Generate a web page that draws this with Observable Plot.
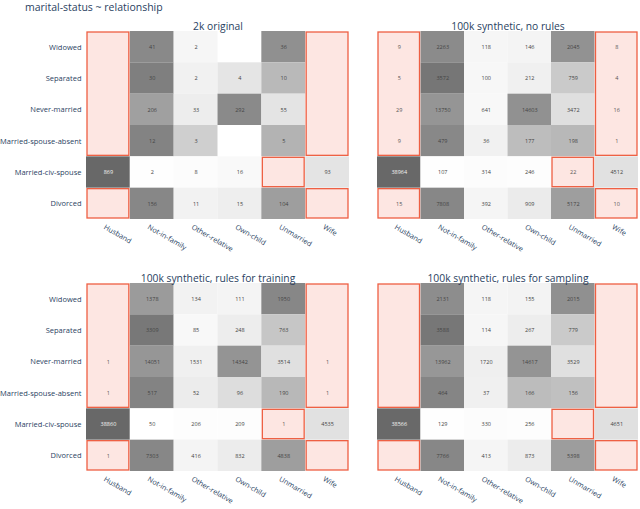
<!DOCTYPE html>
<html>
<head>
<meta charset="utf-8">
<script src="https://cdn.jsdelivr.net/npm/d3@7"></script>
<script src="https://cdn.jsdelivr.net/npm/@observablehq/plot@0.6"></script>
<style>
  body { margin: 0; background: #fff; }
  #wrap { position: relative; width: 640px; height: 509px; overflow: hidden; font-family: "Open Sans", sans-serif; }
  #title { position: absolute; left: 25px; top: 0px; font-size: 10.5px; color: #2a3f5f; white-space: nowrap; }
  .panel { position: absolute; }
</style>
</head>
<body>
<div id="wrap">
  <div id="title">marital-status ~ relationship</div>
</div>
<script>
const rows = ["Widowed", "Separated", "Never-married", "Married-spouse-absent", "Married-civ-spouse", "Divorced"];
const cols = ["Husband", "Not-in-family", "Other-relative", "Own-child", "Unmarried", "Wife"];
const panelTitles = ["2k original", "100k synthetic, no rules", "100k synthetic, rules for training", "100k synthetic, rules for sampling"];

// counts: rows x cols (0 = empty)
const original2k = [
  [0, 41, 2, 0, 36, 0],
  [0, 30, 2, 4, 10, 0],
  [0, 206, 33, 292, 55, 0],
  [0, 12, 3, 0, 5, 0],
  [869, 2, 8, 16, 0, 93],
  [0, 156, 11, 15, 104, 0]
];
const noRules = [
  [9, 2263, 118, 146, 2045, 8],
  [5, 3572, 100, 212, 759, 4],
  [29, 13750, 641, 14603, 3472, 16],
  [9, 479, 36, 177, 198, 1],
  [38964, 107, 314, 246, 22, 4512],
  [15, 7808, 392, 909, 5172, 10]
];
const rulesTraining = [
  [0, 1378, 134, 111, 1950, 0],
  [0, 3309, 85, 248, 763, 0],
  [1, 14051, 1531, 14342, 3514, 1],
  [1, 517, 52, 96, 190, 1],
  [38860, 50, 206, 209, 1, 4535],
  [1, 7303, 416, 832, 4838, 0]
];
const rulesSampling = [
  [0, 2131, 118, 155, 2015, 0],
  [0, 3588, 114, 267, 779, 0],
  [0, 13962, 1720, 14617, 3529, 0],
  [0, 464, 37, 166, 156, 0],
  [38566, 129, 330, 256, 0, 4651],
  [0, 7766, 413, 873, 5398, 0]
];

// forbidden combinations (rules), grouped as drawn
const forbidden = [
  {col: "Husband", rows: ["Widowed", "Separated", "Never-married", "Married-spouse-absent"]},
  {col: "Husband", rows: ["Divorced"]},
  {col: "Wife", rows: ["Widowed", "Separated", "Never-married", "Married-spouse-absent"]},
  {col: "Wife", rows: ["Divorced"]},
  {col: "Unmarried", rows: ["Married-civ-spouse"]}
];

const grayDomain = [0, 0.03, 0.1, 0.2, 0.35, 0.5, 0.75, 1];
const grayRange = ["#ffffff", "#f4f4f4", "#e2e2e2", "#bcbcbc", "#a0a0a0", "#8a8a8a", "#787878", "#5a5a5a"];

const isForbidden = (r, c) => forbidden.some(f => f.col === cols[c] && f.rows.includes(rows[r]));

function makeCells(values) {
  const out = [];
  values.forEach((row, r) => {
    const sum = d3.sum(row);
    row.forEach((v, c) => out.push({r, c, v, p: sum ? v / sum : 0, forb: isForbidden(r, c)}));
  });
  return out;
}

const ruleRects = forbidden.map(f => {
  const idx = f.rows.map(r => rows.indexOf(r));
  return {c: cols.indexOf(f.col), r1: d3.min(idx), r2: d3.max(idx) + 1};
});

function panel(values, title, opts) {
  const cells = makeCells(values);
  const marks = [
    Plot.rect(cells.filter(d => !d.forb && d.v > 0), {
      x1: d => d.c, x2: d => d.c + 1, y1: d => d.r, y2: d => d.r + 1, fill: d => d.p
    }),
    Plot.rect(ruleRects, {
      x1: d => d.c, x2: d => d.c + 1, y1: d => d.r1, y2: d => d.r2,
      fill: "#fde6e2", stroke: "#ee5f42", strokeWidth: 1.3, inset: 1
    }),
    Plot.text(cells.filter(d => d.v > 0 && d.forb), {
      x: d => d.c + 0.5, y: d => d.r + 0.5, text: d => String(d.v), fontSize: 5.5, fill: "#555"
    }),
    Plot.text(cells.filter(d => d.v > 0 && !d.forb && d.p <= 0.8), {
      x: d => d.c + 0.5, y: d => d.r + 0.5, text: d => String(d.v), fontSize: 5.5, fill: "#444"
    }),
    Plot.text(cells.filter(d => d.v > 0 && !d.forb && d.p > 0.8), {
      x: d => d.c + 0.5, y: d => d.r + 0.5, text: d => String(d.v), fontSize: 5.5, fill: "#f4f4f4"
    }),
    Plot.text(cols, {
      x: (d, i) => i + 0.5, y: () => 6, dx: -4, dy: 7, rotate: 30, textAnchor: "start",
      fontSize: 7.2, fill: "#2a3f5f"
    }),
    Plot.text([title], {frameAnchor: "top", dy: -9, fontSize: 10.3, fill: "#2a3f5f"})
  ];
  if (opts.showY) {
    marks.push(Plot.text(rows, {
      x: () => 0, y: (d, i) => i + 0.5, dx: -5, textAnchor: "end", fontSize: 7.5, fill: "#2a3f5f"
    }));
  }
  const svg = Plot.plot({
    width: opts.width,
    height: opts.height,
    marginLeft: opts.marginLeft,
    marginRight: opts.marginRight,
    marginTop: 21,
    marginBottom: opts.height - 21 - 188,
    x: {domain: [0, 6], axis: null},
    y: {domain: [0, 6], reverse: true, axis: null},
    color: {type: "linear", domain: grayDomain, range: grayRange, interpolate: "rgb"},
    style: {fontFamily: "Open Sans, sans-serif", background: "transparent", overflow: "visible"},
    marks
  });
  const div = document.createElement("div");
  div.className = "panel";
  div.style.left = opts.left + "px";
  div.style.top = opts.top + "px";
  div.appendChild(svg);
  document.getElementById("wrap").appendChild(div);
}

panel(original2k, panelTitles[0], {left: 0, top: 10, width: 352, height: 250, marginLeft: 86, marginRight: 3, showY: true});
panel(noRules, panelTitles[1], {left: 350, top: 10, width: 290, height: 250, marginLeft: 27, marginRight: 2, showY: false});
panel(rulesTraining, panelTitles[2], {left: 0, top: 262, width: 352, height: 247, marginLeft: 86, marginRight: 3, showY: true});
panel(rulesSampling, panelTitles[3], {left: 350, top: 262, width: 290, height: 247, marginLeft: 27, marginRight: 2, showY: false});
</script>
</body>
</html>
